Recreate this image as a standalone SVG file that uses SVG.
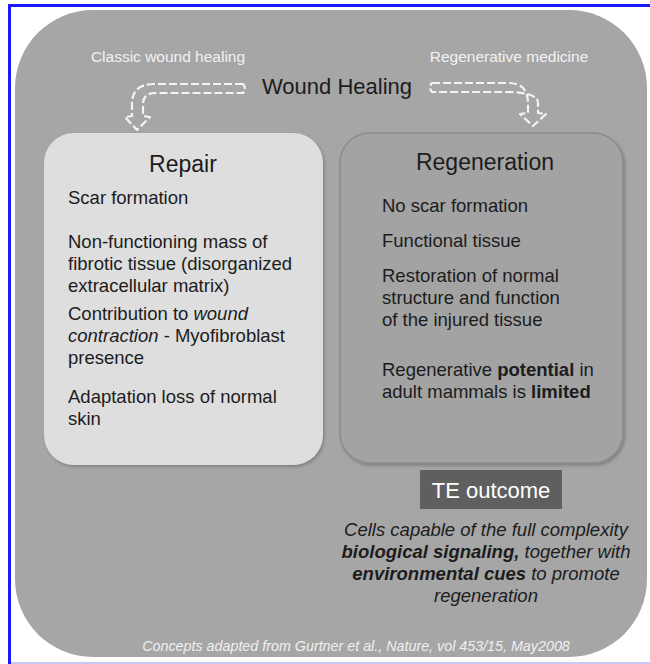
<svg xmlns="http://www.w3.org/2000/svg" width="650" height="664" viewBox="0 0 650 664">
<defs>
<style>
.t{font-family:"Liberation Sans",Arial,sans-serif;fill:#1c1c1c}
.body{font-size:18.5px}
.title{font-size:23px;text-anchor:middle}
.lab{font-family:"Liberation Sans",Arial,sans-serif;font-size:15.5px;fill:#f2f2f2;text-anchor:middle}
.it{font-style:italic}
.b{font-weight:bold}
.dash{fill:none;stroke:#f4f4f4;stroke-width:2.2;stroke-dasharray:8 3;stroke-linejoin:round}
</style>
<filter id="sh" x="-5%" y="-5%" width="110%" height="110%">
<feDropShadow dx="1.5" dy="2" stdDeviation="1.5" flood-color="#555" flood-opacity="0.45"/>
</filter>
</defs>
<rect x="0" y="0" width="650" height="664" fill="#ffffff"/>
<g id="frame">
<rect x="8" y="4" width="642" height="3" fill="#1a1aff"/>
<rect x="8" y="4" width="3" height="660" fill="#1a1aff"/>
<rect x="11" y="662" width="639" height="2" fill="#c8c8f4"/>
</g>
<g id="background">
<rect x="15" y="10" width="632" height="647" rx="78" ry="78" fill="#a6a6a6"/>
</g>
<g id="header">
<text class="lab" x="168" y="62">Classic wound healing</text>
<text class="lab" x="509" y="62">Regenerative medicine</text>
<text class="t" x="337" y="94" font-size="22" text-anchor="middle">Wound Healing</text>
</g>
<g id="connectors">
<path class="dash" d="M243,84 L154,84 Q132,84 132,104 L132,116 L125,117 L137,130 L150,117 L143,116 L143,104 Q143,93 156,93 L243,93 Q247,88.5 243,84 Z"/>
<path class="dash" d="M432,83 L508,83 Q528,83 528,103 L528,113 L520,114 L533,126 L546,114 L538,113 L538,103 Q538,92 506,92 L432,92 Q428,87.5 432,83 Z"/>
<path d="M488,408 L488,455 M481,447 L488,456 L495,447" fill="none" stroke="#ffffff" stroke-width="2"/>
</g>
<g id="repair">
<rect x="44" y="133" width="279" height="332" rx="30" ry="30" fill="#dedede" filter="url(#sh)"/>
<text class="t title" x="183" y="172">Repair</text>
<text class="t body" x="68" y="204">Scar formation</text>
<text class="t body" x="68" y="248">Non-functioning mass of</text>
<text class="t body" x="68" y="270">fibrotic tissue (disorganized</text>
<text class="t body" x="68" y="292">extracellular matrix)</text>
<text class="t body" x="68" y="320">Contribution to <tspan class="it">wound</tspan></text>
<text class="t body" x="68" y="342"><tspan class="it">contraction</tspan> - Myofibroblast</text>
<text class="t body" x="68" y="364">presence</text>
<text class="t body" x="68" y="403">Adaptation loss of normal</text>
<text class="t body" x="68" y="425">skin</text>
</g>
<g id="regeneration">
<rect x="340" y="133" width="283" height="330" rx="30" ry="30" fill="#a3a3a3" stroke="#8c8c8c" stroke-width="1.5" filter="url(#sh)"/>
<text class="t title" x="485" y="170">Regeneration</text>
<text class="t body" x="382" y="212">No scar formation</text>
<text class="t body" x="382" y="247">Functional tissue</text>
<text class="t body" x="382" y="282">Restoration of normal</text>
<text class="t body" x="382" y="304">structure and function</text>
<text class="t body" x="382" y="326">of the injured tissue</text>
<text class="t body" x="382" y="376">Regenerative <tspan class="b">potential</tspan> in</text>
<text class="t body" x="382" y="398">adult mammals is <tspan class="b">limited</tspan></text>
</g>
<g id="te-outcome">
<rect x="420" y="470" width="142" height="39" fill="#5f5f5f"/>
<text x="491" y="498" font-family="Liberation Sans, Arial, sans-serif" font-size="22" fill="#ffffff" text-anchor="middle">TE outcome</text>
</g>
<g id="te-description">
<text class="t body it" x="486" y="536" text-anchor="middle">Cells capable of the full complexity</text>
<text class="t body it" x="486" y="558" text-anchor="middle"><tspan class="b">biological signaling,</tspan> together with</text>
<text class="t body it" x="486" y="580" text-anchor="middle"><tspan class="b">environmental cues</tspan> to promote</text>
<text class="t body it" x="486" y="602" text-anchor="middle">regeneration</text>
</g>
<g id="footer">
<text x="356" y="651" font-family="Liberation Sans, Arial, sans-serif" font-size="14.3" font-style="italic" fill="#f0f0f0" text-anchor="middle">Concepts adapted from Gurtner et al., Nature, vol 453/15, May2008</text>
</g>
</svg>
